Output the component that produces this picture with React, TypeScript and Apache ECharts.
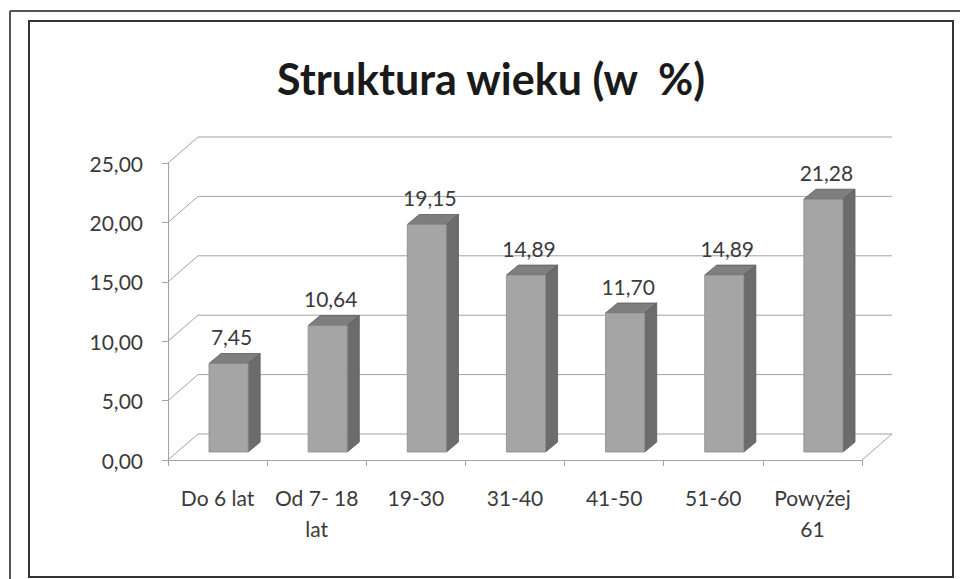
import React, { useEffect, useRef } from 'react';
import * as echarts from 'echarts';

const TITLE = 'Struktura wieku (w  %)';
const categories = ['Do 6 lat', 'Od 7- 18\nlat', '19-30', '31-40', '41-50', '51-60', 'Powyżej\n61'];
const values = [7.45, 10.64, 19.15, 14.89, 11.7, 14.89, 21.28];
const yTicks = [0, 5, 10, 15, 20, 25];
const Y_MIN = 0;
const Y_MAX = 25;
const Y_STEP = 5;

const WALL_DX = 30;
const WALL_DY = -26;
const BAR_OFF_X = 11;
const BAR_OFF_Y = -8;
const BAR_DX = 12;
const BAR_DY = -10;
const FONT = 'Lato, "Noto Sans", sans-serif';
const LINE = '#a3a3a3';
const TEXT = '#3a3a3a';

const fmt = (v: number) => v.toFixed(2).replace('.', ',');

export default function App() {
  const ref = useRef<HTMLDivElement>(null);
  useEffect(() => {
    if (!ref.current) return;
    const chart = echarts.init(ref.current, null, { renderer: 'svg' });
    const option: any = {
      animation: false,
      backgroundColor: '#ffffff',
      grid: { left: 168, right: 98, top: 163, bottom: 119, containLabel: false },
      xAxis: {
        type: 'category',
        data: categories,
        boundaryGap: true,
        axisLine: { show: true, lineStyle: { color: LINE, width: 1 } },
        axisTick: { show: true, length: 6, lineStyle: { color: LINE } },
        axisLabel: {
          color: TEXT,
          fontFamily: FONT,
          fontSize: 21,
          lineHeight: 31,
          margin: 22,
          interval: 0,
        },
        splitLine: { show: false },
      },
      yAxis: {
        type: 'value',
        min: Y_MIN,
        max: Y_MAX,
        interval: Y_STEP,
        axisLine: { show: true, lineStyle: { color: LINE, width: 1 } },
        axisTick: { show: true, length: 6, lineStyle: { color: LINE } },
        axisLabel: {
          color: TEXT,
          fontFamily: FONT,
          fontSize: 21,
          margin: 25,
          formatter: (v: number) => fmt(v),
        },
        splitLine: { show: false },
      },
      graphic: [
        { type: 'line', shape: { x1: 10, y1: 11, x2: 960, y2: 11 }, style: { stroke: '#555', lineWidth: 2 } },
        { type: 'line', shape: { x1: 10, y1: 11, x2: 10, y2: 579 }, style: { stroke: '#555', lineWidth: 2 } },
        {
          type: 'rect',
          shape: { x: 29, y: 21, width: 924, height: 556 },
          style: { fill: 'none', stroke: '#333', lineWidth: 2 },
        },
        {
          type: 'text',
          x: 491,
          y: 78,
          style: {
            text: TITLE,
            fill: '#1a1a1a',
            fontFamily: FONT,
            fontWeight: 'bold',
            fontSize: 43,
            align: 'center',
            verticalAlign: 'middle',
          },
        },
      ],
      series: [
        {
          type: 'custom',
          z: 1,
          silent: true,
          encode: { x: 0, y: 1 },
          data: yTicks.map((t) => [0, t]),
          renderItem: (params: any, api: any) => {
            const cs = params.coordSys;
            const v = api.value(1);
            const y = api.coord([0, v])[1];
            const x0 = cs.x;
            const x1 = cs.x + cs.width;
            const children: any[] = [
              {
                type: 'polyline',
                shape: { points: [[x0, y], [x0 + WALL_DX, y + WALL_DY], [x1 + WALL_DX, y + WALL_DY]] },
                style: { stroke: LINE, fill: null, lineWidth: 1 },
              },
            ];
            if (v === Y_MIN) {
              children.push({
                type: 'line',
                shape: { x1: x1, y1: y, x2: x1 + WALL_DX, y2: y + WALL_DY },
                style: { stroke: LINE, lineWidth: 1 },
              });
            }
            return { type: 'group', children };
          },
        },
        {
          type: 'custom',
          z: 3,
          encode: { x: 0, y: 1 },
          data: values.map((v, i) => [i, v]),
          renderItem: (params: any, api: any) => {
            const i = api.value(0);
            const v = api.value(1);
            const top = api.coord([i, v]);
            const base = api.coord([i, 0]);
            const bw = api.size([1, 0])[0] * 0.395;
            const cx = top[0] + BAR_OFF_X;
            const xl = cx - bw / 2;
            const xr = cx + bw / 2;
            const yt = top[1] + BAR_OFF_Y;
            const yb = base[1] + BAR_OFF_Y;
            const edge = '#5a5a5a';
            return {
              type: 'group',
              children: [
                {
                  type: 'polygon',
                  shape: { points: [[xr, yt], [xr + BAR_DX, yt + BAR_DY], [xr + BAR_DX, yb + BAR_DY], [xr, yb]] },
                  style: { fill: '#6c6c6c', stroke: edge, lineWidth: 0.8 },
                },
                {
                  type: 'polygon',
                  shape: { points: [[xl, yt], [xr, yt], [xr + BAR_DX, yt + BAR_DY], [xl + BAR_DX, yt + BAR_DY]] },
                  style: { fill: '#7e7e7e', stroke: edge, lineWidth: 0.8 },
                },
                {
                  type: 'rect',
                  shape: { x: xl, y: yt, width: xr - xl, height: yb - yt },
                  style: { fill: '#a5a5a5', stroke: '#8a8a8a', lineWidth: 0.8 },
                },
                {
                  type: 'text',
                  x: cx + 3,
                  y: yt + BAR_DY - 17,
                  style: {
                    text: fmt(v),
                    fill: TEXT,
                    fontFamily: FONT,
                    fontSize: 21,
                    align: 'center',
                    verticalAlign: 'middle',
                  },
                },
              ],
            };
          },
        },
      ],
    };
    chart.setOption(option);
    return () => chart.dispose();
  }, []);
  return (
    <div
      ref={ref}
      style={{ position: 'absolute', left: 0, top: 0, width: 960, height: 579, background: '#fff' }}
    />
  );
}
